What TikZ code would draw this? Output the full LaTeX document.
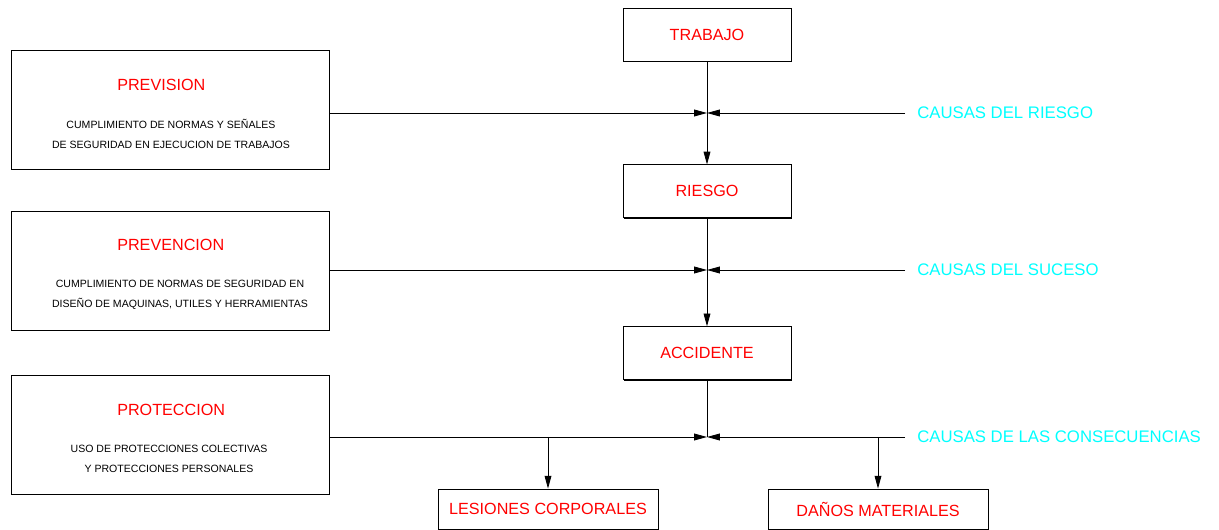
\documentclass[tikz,border=0pt]{standalone}
\usepackage{fontspec}
\setmainfont{Liberation Sans}
\usetikzlibrary{arrows.meta, positioning, shadows}
\definecolor{rojo}{RGB}{255,0,0}
\definecolor{cian}{RGB}{0,255,255}
\tikzstyle{arrow} = [line width=0.6pt, -{Triangle[length=0.32cm, width=0.17cm]}]

\begin{document}
\begin{tikzpicture}[x=0.025cm, y=-0.025cm]
\tikzstyle{caja} = [rectangle, draw=black, line width=0.6pt, fill=white, minimum width=4.2cm, minimum height=1.325cm, inner sep=0pt, text=rojo, font=\fontsize{11.5}{13}\selectfont, drop shadow={shadow xshift=0.6pt, shadow yshift=-0.6pt, opacity=1, fill=black}]
\tikzstyle{medida} = [caja, minimum width=7.95cm, minimum height=2.975cm]
\tikzstyle{efecto} = [caja, minimum width=5.5cm, minimum height=1cm]
\tikzstyle{titulo} = [anchor=west, inner sep=0pt, text=rojo, font=\fontsize{11.5}{13}\selectfont]
\tikzstyle{nota} = [align=center, inner sep=0pt, font=\fontsize{7.5}{14.2}\selectfont]
\tikzstyle{causa} = [anchor=west, inner xsep=0.3cm, inner ysep=0pt, text=cian, font=\fontsize{11.9}{13}\selectfont]
\tikzstyle{linea} = [line width=0.6pt]

\useasboundingbox (0,0) rectangle (1219,530);

% cadena central
\node (trabajo) [caja] at (707,34.5) {TRABAJO};
\node (riesgo) [caja, below=2.575cm of trabajo] {RIESGO};
\node (accidente) [caja, below=2.7cm of riesgo] {ACCIDENTE};

% consecuencias
\node (lesiones) [efecto] at (548,509) {LESIONES CORPORALES};
\node (danos) [efecto] at (878,509) {DAÑOS MATERIALES};

% medidas a la izquierda
\node (prevision) [medida] at (170,109.5) {};
\node (previsionT) [titulo] at (117,85) {PREVISION};
\node (previsionN) [nota] at (171,134) {CUMPLIMIENTO DE NORMAS Y SEÑALES\\DE SEGURIDAD EN EJECUCION DE TRABAJOS};

\node (prevencion) [medida] at (170,270.5) {};
\node (prevencionT) [titulo] at (117,245) {PREVENCION};
\node (prevencionN) [nota] at (180,294.5) {CUMPLIMIENTO DE NORMAS DE SEGURIDAD EN\\DISEÑO DE MAQUINAS, UTILES Y HERRAMIENTAS};

\node (proteccion) [medida] at (170,435) {};
\node (proteccionT) [titulo] at (117,410) {PROTECCION};
\node (proteccionN) [nota] at (169,459) {USO DE PROTECCIONES COLECTIVAS\\Y PROTECCIONES PERSONALES};

% causas a la derecha
\coordinate (j1) at (707,113);
\coordinate (j2) at (707,270);
\coordinate (j3) at (707,437);
\node (c1) [causa] at (905,113) {CAUSAS DEL RIESGO};
\node (c2) [causa] at (905,270) {CAUSAS DEL SUCESO};
\node (c3) [causa] at (905,437) {CAUSAS DE LAS CONSECUENCIAS};

\draw [arrow] (trabajo) -- (riesgo);
\draw [arrow] (riesgo) -- (accidente);
\draw [linea] (accidente) -- (j3);

\draw [arrow] (prevision.east |- j1) -- (j1);
\draw [arrow] (c1.west) -- (j1);
\draw [arrow] (prevencion.east |- j2) -- (j2);
\draw [arrow] (c2.west) -- (j2);
\draw [arrow] (proteccion.east |- j3) -- (j3);
\draw [arrow] (c3.west) -- (j3);

\draw [arrow] (lesiones.north |- j3) -- (lesiones);
\draw [arrow] (danos.north |- j3) -- (danos);

\end{tikzpicture}
\end{document}
